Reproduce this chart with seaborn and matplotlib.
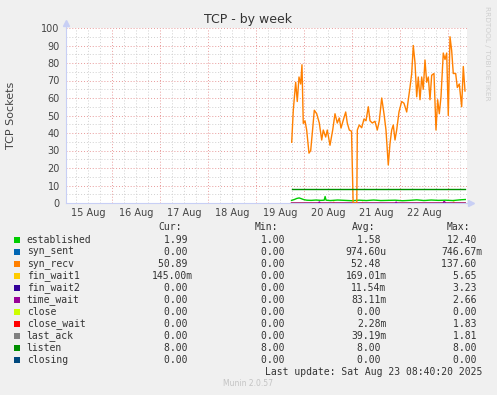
import numpy as np
import pandas as pd
import matplotlib
matplotlib.use("Agg")
import matplotlib.pyplot as plt
from matplotlib.patches import Rectangle
import seaborn as sns

# time axis: days since 15 Aug 00:00
day_labels = ["15 Aug", "16 Aug", "17 Aug", "18 Aug", "19 Aug", "20 Aug", "21 Aug", "22 Aug"]

recv_t = [4.744, 4.777, 4.827, 4.860, 4.896, 4.931, 4.958, 4.985, 5.021, 5.056,
          5.104, 5.140, 5.173, 5.215, 5.265, 5.319, 5.369, 5.402, 5.452, 5.485,
          5.542, 5.598, 5.646, 5.694, 5.735, 5.771, 5.819, 5.869, 5.902, 5.944,
          5.990, 6.024, 6.100, 6.111, 6.152, 6.202, 6.250, 6.292, 6.340, 6.375,
          6.423, 6.479, 6.527, 6.569, 6.619, 6.667, 6.708, 6.756, 6.792, 6.827,
          6.860, 6.896, 6.931, 6.979, 7.035, 7.083, 7.140, 7.173, 7.208, 7.244,
          7.277, 7.313, 7.348, 7.381, 7.417, 7.452, 7.485, 7.521, 7.556, 7.590,
          7.625, 7.660, 7.708, 7.750, 7.785, 7.819, 7.854, 7.902, 7.938, 7.973,
          8.006, 8.042, 8.077, 8.110, 8.160, 8.194, 8.235, 8.285, 8.319, 8.354]
recv_v = [34.7, 53, 69, 58, 72, 68, 79, 45.5, 47, 41.7,
          28.5, 30, 40, 53, 51, 45.7, 36, 41.7, 37.7, 41.7,
          33, 41.7, 51, 45.7, 48.6, 42.8, 47.4, 52, 45.7, 41.7,
          41, 0, 0, 41.7, 44.6, 43, 48, 47, 55, 47,
          45.7, 46.7, 41.7, 47, 60, 51, 41.7, 21.7, 34, 41.7,
          44.6, 36, 41.7, 52, 58, 57, 52, 59, 66, 74,
          90, 80, 60.7, 72, 59, 72, 65, 81.7, 69, 72,
          59, 73, 74, 41.7, 59, 51, 60.7, 85.7, 82, 85.7,
          50, 95, 87, 74, 74, 66, 68, 55, 78, 64]

est_t = [4.74, 4.80, 4.85, 4.90, 4.95, 5.00, 5.06, 5.15, 5.25, 5.35, 5.42, 5.44,
         5.46, 5.55, 5.70, 5.85, 6.00, 6.15, 6.30, 6.45, 6.60, 6.75, 6.90, 7.05,
         7.20, 7.35, 7.50, 7.65, 7.80, 7.95, 8.10, 8.25, 8.36]
est_v = [1.5, 2.0, 2.6, 2.9, 2.4, 1.9, 1.6, 1.5, 1.7, 1.5, 1.6, 3.7,
         1.6, 1.4, 1.7, 1.5, 1.3, 1.6, 1.4, 1.7, 1.4, 1.5, 1.6, 1.3,
         1.5, 1.8, 1.4, 1.7, 1.5, 1.6, 1.4, 1.8, 1.99]

listen_t = [4.74, 8.36]
listen_v = [8, 8]

tw_t = [4.74, 5.30, 5.32, 5.34, 6.90, 6.92, 6.94, 7.90, 7.92, 7.95, 8.36]
tw_v = [0, 0, 0.6, 0, 0, 0.5, 0, 0, 1.0, 0, 0]
fw1_t = [4.74, 5.60, 5.62, 5.64, 6.20, 6.22, 6.24, 8.10, 8.12, 8.14, 8.36]
fw1_v = [0, 0, 0.5, 0, 0, 0.4, 0, 0, 0.6, 0, 0]

# legend table
names = ["established", "syn_sent", "syn_recv", "fin_wait1", "fin_wait2", "time_wait",
         "close", "close_wait", "last_ack", "listen", "closing"]
colors = ["#00CC00", "#0066B3", "#FF8000", "#FFCC00", "#330099", "#990099",
          "#CCFF00", "#FF0000", "#808080", "#008F00", "#00487D"]
cur = ["1.99 ", "0.00 ", "50.89 ", "145.00m", "0.00 ", "0.00 ", "0.00 ", "0.00 ", "0.00 ", "8.00 ", "0.00 "]
mins = ["1.00 ", "0.00 ", "0.00 ", "0.00 ", "0.00 ", "0.00 ", "0.00 ", "0.00 ", "0.00 ", "8.00 ", "0.00 "]
avgs = ["1.58 ", "974.60u", "52.48 ", "169.01m", "11.54m", "83.11m", "0.00 ", "2.28m", "39.19m", "8.00 ", "0.00 "]
maxs = ["12.40 ", "746.67m", "137.60 ", "5.65 ", "3.23 ", "2.66 ", "0.00 ", "1.83 ", "1.81 ", "8.00 ", "0.00 "]

W, H = 497, 395
fig = plt.figure(figsize=(W / 100, H / 100), dpi=100, facecolor="#F0F0F0")
ax = fig.add_axes([66 / W, (H - 203) / H, 401 / W, 175 / H])
ax.set_facecolor("white")

series = [
    (fw1_t, fw1_v, colors[3]),
    (tw_t, tw_v, colors[5]),
    (est_t, est_v, colors[0]),
    (recv_t, recv_v, colors[2]),
    (listen_t, listen_v, colors[9]),
]
for t, v, c in series:
    sns.lineplot(x=t, y=v, color=c, lw=1.0, estimator=None, sort=False, ax=ax, zorder=3)

ax.set_xlim(0.042, 8.396)
ax.set_ylim(0, 100)
ax.set_xticks(range(1, 9))
ax.set_xticks([d / 4 for d in range(1, 34) if d % 4], minor=True)
ax.set_yticks(range(0, 101, 10))
ax.set_yticks(range(5, 100, 10), minor=True)
ax.set_xticklabels([])
ax.tick_params(axis="both", which="both", length=0)
ax.tick_params(axis="y", labelsize=7, labelcolor="#444444", pad=4.5)
ax.grid(which="major", color="#E89A9A", linestyle=(0, (1, 2)), lw=0.7, zorder=1)
ax.grid(which="minor", color="#D0D0D0", linestyle=(0, (1, 2)), lw=0.7, zorder=1)
ax.set_axisbelow(True)
for s in ["top", "right"]:
    ax.spines[s].set_visible(False)
for s in ["left", "bottom"]:
    ax.spines[s].set_color("#C8CFF5")
ax.plot([0], [1.03], marker="^", color="#C8CFF5", ms=4, transform=ax.transAxes, clip_on=False)
ax.plot([0, 0], [1.0, 1.03], color="#C8CFF5", lw=0.8, transform=ax.transAxes, clip_on=False)
ax.plot([1.0, 1.01], [0, 0], color="#C8CFF5", lw=0.8, transform=ax.transAxes, clip_on=False)
ax.plot([1.01], [0], marker=">", color="#C8CFF5", ms=4, transform=ax.transAxes, clip_on=False)

for i, lab in enumerate(day_labels):
    ax.text(i + 0.5, -0.055, lab, transform=ax.get_xaxis_transform(), ha="center", va="center",
            fontsize=7, color="#444444")

# overlay in pixel coordinates for the text and legend
ov = fig.add_axes([0, 0, 1, 1])
ov.set_xlim(0, W)
ov.set_ylim(H, 0)
ov.axis("off")
ov.patch.set_visible(False)

ov.text(248.5, 19.3, "TCP - by week", ha="center", va="center", fontsize=9, color="#333333")
ov.text(10.7, 115, "TCP Sockets", rotation=90, ha="center", va="center", fontsize=8, color="#444444")
ov.text(487, 53, "RRDTOOL / TOBI OETIKER", rotation=-90, ha="center", va="center",
        fontsize=5.3, color="#CFCFCF")

mono = "DejaVu Sans Mono"
for x, h in zip([158, 255, 352, 447], ["Cur:", "Min:", "Avg:", "Max:"]):
    ov.text(x, 227.5, h, ha="left", va="center", fontsize=7, family=mono, color="#333333")

for i, name in enumerate(names):
    y = 239.7 + 12 * i
    ov.add_patch(Rectangle((14, y - 3), 6, 6, color=colors[i], lw=0))
    ov.text(26.7, y, name, ha="left", va="center", fontsize=7, family=mono, color="#333333")
    for x, col in zip([193.3, 290.2, 386.6, 482.6], [cur, mins, avgs, maxs]):
        ov.text(x, y, col[i], ha="right", va="center", fontsize=7, family=mono, color="#333333")

ov.text(482.7, 371.7, "Last update: Sat Aug 23 08:40:20 2025", ha="right", va="center",
        fontsize=7, family=mono, color="#333333")
ov.text(248, 384, "Munin 2.0.57", ha="center", va="center", fontsize=5.5, color="#C4C4C4")

fig.savefig("out.png", dpi=100, facecolor=fig.get_facecolor())
